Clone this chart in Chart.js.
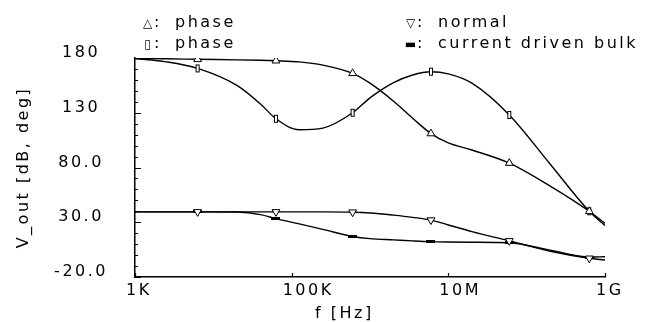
<!DOCTYPE html>
<html>
<head>
<meta charset="utf-8">
<script src="https://cdn.jsdelivr.net/npm/chart.js@4/dist/chart.umd.min.js"></script>
<style>
html, body { margin: 0; padding: 0; background: #fff; }
#wrap { position: relative; width: 651px; height: 322px; }
.lg { position: absolute; font: 16px "DejaVu Sans"; letter-spacing: 2.5px; color: #000; white-space: nowrap; line-height: 18px; }
.mk { display: inline-block; width: 13px; text-align: center; font-size: 12px; letter-spacing: 0; }
.c { display: inline-block; width: 21px; }
</style>
</head>
<body>
<div id="wrap">
<canvas id="bode" width="651" height="322"></canvas>
<div class="lg" style="left:141px;top:12.5px"><span class="mk">△</span><span class="c">:</span>phase</div>
<div class="lg" style="left:141px;top:33.5px"><span class="mk">▯</span><span class="c">:</span>phase</div>
<div class="lg" style="left:404px;top:12.5px"><span class="mk">▽</span><span class="c">:</span>normal</div>
<div class="lg" style="left:404px;top:33.5px"><span class="mk">▬</span><span class="c">:</span>current driven bulk</div>
<div class="lg" style="left:315px;top:303.5px">f [Hz]</div>
</div>
<script>
// frequency points (Hz)
const freqHz = [1e3, 2.5e3, 6.3e3, 2e4, 4e4, 6.3e4, 1.25e5, 2.5e5, 6e5, 1e6, 2e6, 3.5e6, 6e6, 1e7, 2e7, 6e7, 2e8, 6.3e8, 1e9];
const markerHz = [6.3e3, 6.3e4, 6e5, 6e6, 6e7, 6.3e8];

// phase curves (deg)
const phaseTri  = [179.5, 179.3, 178.8, 178.3, 177.9, 177.5, 176.5, 173.5, 166, 157, 140.5, 125, 111, 102.5, 96, 84, 63, 40, 29];
const phaseRect = [179.5, 176.5, 170.5, 155, 138, 124.5, 114.5, 116, 130, 143.6, 157.5, 164.5, 167.5, 165.5, 157, 128, 83, 40, 27];
// magnitude curves (dB)
const normalMag = [39.5, 39.5, 39.5, 39.5, 39.5, 39.5, 39.5, 39.5, 39.2, 38.5, 36.5, 34.5, 32, 27.5, 21.5, 13, 3.5, -2.9, -4.5];
const bulkMag   = [39.5, 39.5, 39.5, 39.3, 37, 33.3, 28.5, 23.5, 17, 15, 13.9, 13, 12.3, 12, 11.8, 11.3, 4.5, -1.8, -1.5];

const xTicks = [1e3, 1e5, 1e7, 1e9];
const xTickLabels = ['1K', '100K', '10M', '1G'];
const yTicks = [-20, 30, 80, 130, 180];
const yTickLabels = ['-20.0', '30.0', '80.0', '130', '180'];

function pts(vals) {
  return freqHz.map((f, i) => ({x: f, y: vals[i]}));
}

function isMark(c) {
  return markerHz.includes(freqHz[c.dataIndex]);
}

// small marker images
const tallRect = document.createElement('canvas');
tallRect.width = 6; tallRect.height = 10;
(function () {
  const g = tallRect.getContext('2d');
  g.fillStyle = '#fff'; g.fillRect(1, 1, 4, 8);
  g.strokeStyle = '#000'; g.lineWidth = 1;
  g.strokeRect(1.5, 1.5, 3, 7);
})();
const flatBar = document.createElement('canvas');
flatBar.width = 9; flatBar.height = 3;
(function () {
  const g = flatBar.getContext('2d');
  g.fillStyle = '#000'; g.fillRect(0, 0, 9, 3);
})();

function curve(vals, style, rot) {
  return {
    data: pts(vals),
    borderColor: '#000',
    borderWidth: 1.4,
    cubicInterpolationMode: 'monotone',
    pointRadius: c => isMark(c) ? 4.5 : 0,
    pointStyle: style,
    pointRotation: rot || 0,
    pointBackgroundColor: '#fff',
    pointBorderColor: '#000',
    pointBorderWidth: 1
  };
}

const spacing = {
  id: 'spacing',
  beforeUpdate(chart) { chart.ctx.letterSpacing = '2.5px'; },
  beforeDraw(chart) { chart.ctx.letterSpacing = '2.5px'; }
};

const inTicks = {
  id: 'inTicks',
  afterDraw(chart) {
    const {ctx, chartArea: a, scales: {x, y}} = chart;
    ctx.save();
    ctx.strokeStyle = '#000';
    ctx.lineWidth = 1.2;
    ctx.beginPath();
    y.ticks.forEach(t => {
      const py = Math.round(y.getPixelForValue(t.value)) + 0.5;
      const len = yTicks.includes(Math.round(t.value)) ? 6 : 3;
      ctx.moveTo(a.left, py);
      ctx.lineTo(a.left + len, py);
    });
    xTicks.forEach(v => {
      const px = Math.round(x.getPixelForValue(v)) + 0.5;
      ctx.moveTo(px, a.bottom);
      ctx.lineTo(px, a.bottom - 4);
    });
    ctx.stroke();
    ctx.restore();
  }
};

Chart.defaults.font.family = 'DejaVu Sans';
Chart.defaults.font.size = 16;
Chart.defaults.color = '#000';

new Chart(document.getElementById('bode'), {
  type: 'line',
  data: {
    datasets: [
      curve(phaseTri, 'triangle'),
      curve(phaseRect, tallRect),
      curve(normalMag, 'triangle', 180),
      curve(bulkMag, flatBar)
    ]
  },
  options: {
    responsive: false,
    animation: false,
    layout: {padding: {top: 58, right: 46, bottom: 0, left: 0}},
    plugins: {legend: {display: false}, tooltip: {enabled: false}},
    scales: {
      x: {
        type: 'logarithmic',
        min: 1e3,
        max: 1e9,
        afterBuildTicks: s => { s.ticks = xTicks.map(v => ({value: v})); },
        afterFit: s => { s.height = 45; },
        grid: {display: false, drawTicks: false},
        border: {display: true, color: '#000', width: 1.5},
        ticks: {
          autoSkip: false,
          maxRotation: 0,
          align: 'start',
          labelOffset: -9,
          padding: 4,
          callback: v => xTickLabels[xTicks.indexOf(v)]
        }
      },
      y: {
        min: -20,
        max: 180,
        afterFit: s => { s.width = 135; },
        grid: {display: false, drawTicks: false},
        border: {display: true, color: '#000', width: 1.5},
        title: {display: true, text: 'V_out [dB, deg]', padding: {top: 14, bottom: 0}},
        ticks: {
          stepSize: 10,
          autoSkip: false,
          crossAlign: 'center',
          padding: 27,
          labelOffset: -5,
          callback: v => {
            const i = yTicks.indexOf(Math.round(v));
            return i >= 0 ? yTickLabels[i] : '';
          }
        }
      }
    }
  },
  plugins: [spacing, inTicks]
});
</script>
</body>
</html>
